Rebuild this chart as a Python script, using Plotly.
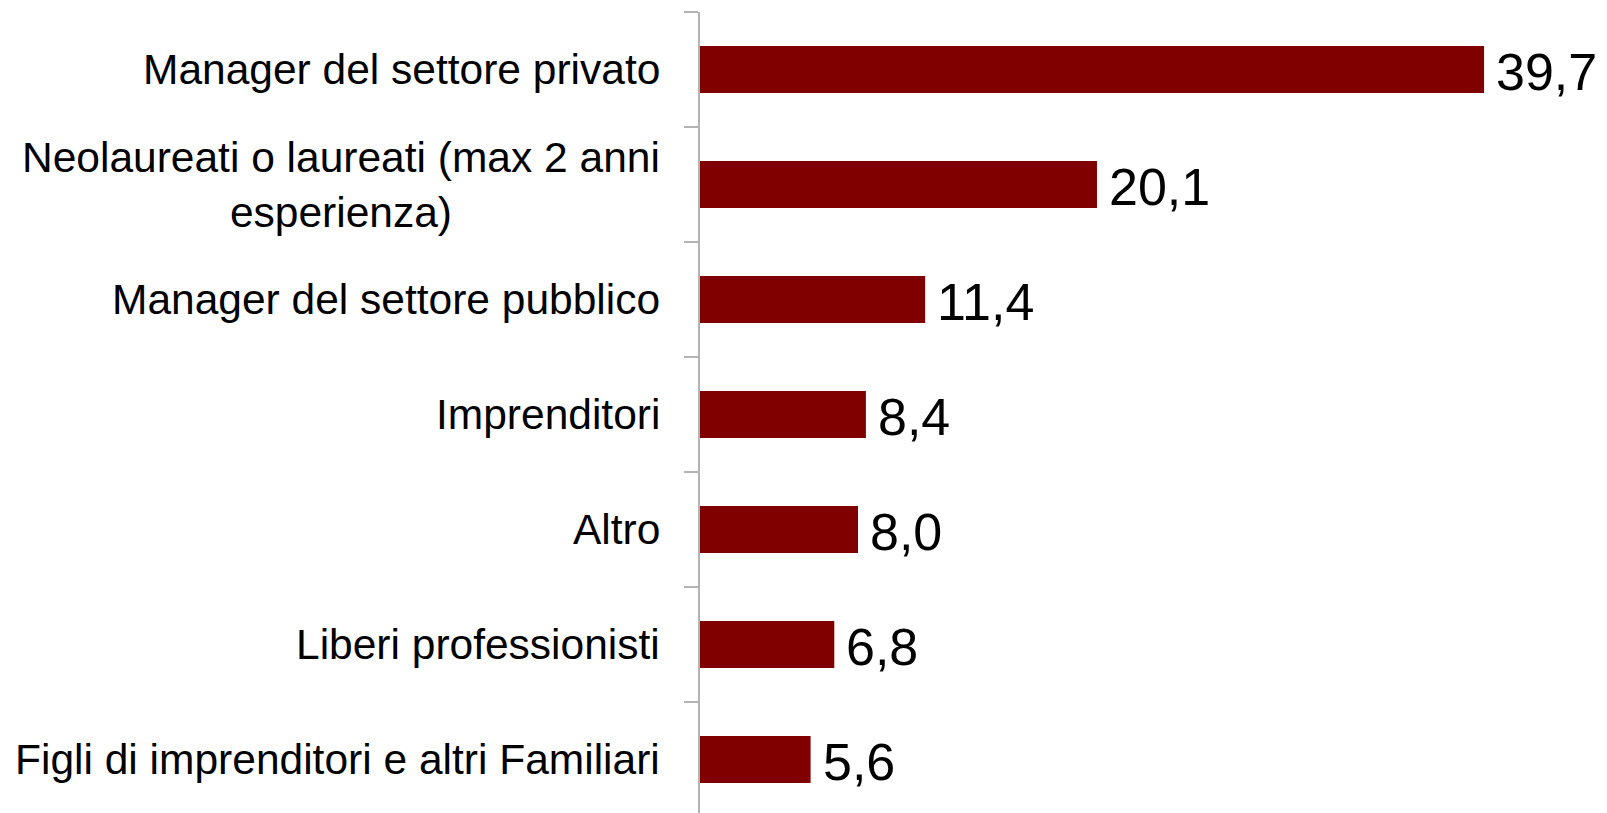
import plotly.graph_objects as go

categories = [
    "Manager del settore privato",
    "Neolaureati o laureati (max 2 anni<br>esperienza)",
    "Manager del settore pubblico",
    "Imprenditori",
    "Altro",
    "Liberi professionisti",
    "Figli di imprenditori e altri Familiari",
]
values = [39.7, 20.1, 11.4, 8.4, 8.0, 6.8, 5.6]
value_labels = ["39,7", "20,1", "11,4", "8,4", "8,0", "6,8", "5,6"]

FONT = "Liberation Sans, Arial, sans-serif"
BAR_COLOR = "#800000"
AXIS_COLOR = "#b3b3b3"

fig = go.Figure()
fig.add_trace(go.Bar(
    x=values,
    y=categories,
    orientation="h",
    marker=dict(color=BAR_COLOR, line=dict(width=0)),
    width=0.41,
    hoverinfo="skip",
))

annotations = []
for cat in categories:
    annotations.append(dict(
        x=0, xref="paper", y=cat, yref="y",
        text=cat, showarrow=False,
        xanchor="right", yanchor="middle", align="center",
        xshift=-38,
        font=dict(family=FONT, size=42.5, color="black"),
    ))
for cat, v, lab in zip(categories, values, value_labels):
    annotations.append(dict(
        x=v, xref="x", y=cat, yref="y",
        text=lab, showarrow=False,
        xanchor="left", yanchor="middle",
        xshift=10, yshift=-2,
        font=dict(family=FONT, size=52, color="black"),
    ))

fig.update_layout(
    width=1599, height=805,
    margin=dict(l=692, r=117, t=4, b=0, pad=0),
    paper_bgcolor="white", plot_bgcolor="white",
    showlegend=False,
    font=dict(family=FONT, color="black"),
    annotations=annotations,
    xaxis=dict(range=[0, 40], visible=False, showgrid=False, zeroline=False),
    yaxis=dict(
        type="category",
        categoryorder="array", categoryarray=categories,
        range=[6.465, -0.5],
        showline=True, linecolor=AXIS_COLOR, linewidth=2,
        ticks="outside", ticklen=14, tickwidth=2, tickcolor=AXIS_COLOR,
        tickson="boundaries",
        showticklabels=False, showgrid=False, zeroline=False,
    ),
)

fig.write_html("out.html")
